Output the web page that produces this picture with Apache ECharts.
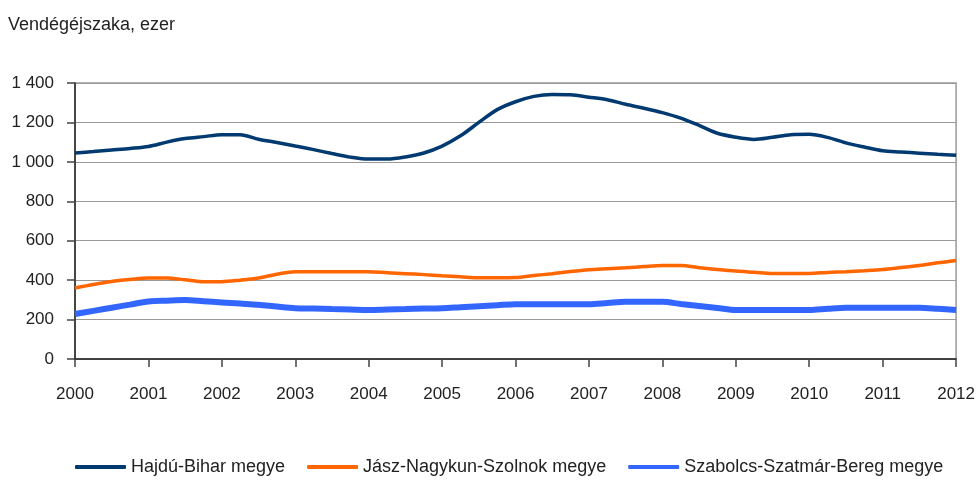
<!DOCTYPE html>
<html>
<head>
<meta charset="utf-8">
<script src="https://cdn.jsdelivr.net/npm/echarts@6/dist/echarts.min.js"></script>
<style>
  html, body { margin: 0; padding: 0; background: #fff; }
  #chart { width: 978px; height: 481px; }
</style>
</head>
<body>
<div id="chart"></div>
<script>
// negyedéves pontok, 2000-2012
var periods = [];
for (var q = 0; q <= 48; q++) { periods.push(2000 + q / 4); }

var yearTicks = [2000, 2001, 2002, 2003, 2004, 2005, 2006, 2007, 2008, 2009, 2010, 2011, 2012];

var hajduBihar = [
  1045, 1052, 1060, 1068, 1078, 1100, 1118, 1128, 1138, 1138, 1115, 1098,
  1080, 1062, 1042, 1024, 1014, 1014, 1025, 1045, 1080, 1132, 1200, 1265,
  1305, 1332, 1342, 1340, 1328, 1315, 1292, 1272, 1250, 1222, 1185, 1145,
  1125, 1114, 1125, 1138, 1140, 1124, 1096, 1075, 1056, 1050, 1044, 1038,
  1033
];
var jaszNagykun = [
  360, 378, 393, 403, 411, 411, 402, 392, 392, 400, 411, 430,
  443, 443, 443, 443, 443, 438, 433, 428, 422, 417, 412, 412,
  413, 423, 433, 444, 453, 458, 463, 469, 474, 474, 463, 454,
  446, 440, 434, 434, 434, 439, 443, 448, 454, 464, 474, 488,
  500
];
var szabolcs = [
  228, 244, 260, 276, 292, 296, 299, 293, 287, 281, 275, 266,
  258, 256, 253, 251, 249, 251, 253, 256, 258, 263, 268, 273,
  278, 278, 278, 278, 278, 284, 290, 290, 290, 279, 269, 259,
  249, 249, 249, 249, 249, 255, 260, 260, 260, 260, 260, 255,
  249
];

function pairs(vals) {
  var out = [];
  for (var i = 0; i < vals.length; i++) { out.push([periods[i], vals[i]]); }
  return out;
}

var font = 'Liberation Sans, Arial, sans-serif';
var myChart = echarts.init(document.getElementById('chart'));

var option = {
  animation: false,
  backgroundColor: '#fff',
  title: {
    text: 'Vendégéjszaka, ezer',
    left: 8,
    top: 16,
    padding: 0,
    textStyle: { fontFamily: font, fontSize: 18, fontWeight: 'normal', color: '#222' }
  },
  grid: {
    left: 75, right: 21, top: 83, bottom: 122,
    show: true, borderColor: '#999', borderWidth: 1.5, backgroundColor: 'transparent'
  },
  legend: {
    left: 75,
    top: 458,
    padding: 0,
    itemWidth: 51,
    itemHeight: 4,
    itemGap: 22,
    icon: 'roundRect',
    textStyle: { fontFamily: font, fontSize: 18, color: '#222' },
    data: ['Hajdú-Bihar megye', 'Jász-Nagykun-Szolnok megye', 'Szabolcs-Szatmár-Bereg megye']
  },
  xAxis: {
    type: 'value',
    min: 2000,
    max: 2012,
    interval: 1,
    axisLine: { lineStyle: { color: '#222', width: 1.5 } },
    axisTick: { show: true, length: 8, lineStyle: { color: '#444', width: 1.5 } },
    splitLine: { show: false },
    axisLabel: {
      margin: 27,
      fontFamily: font,
      fontSize: 17,
      color: '#222',
      formatter: function (v) { return yearTicks.indexOf(v) >= 0 ? String(v) : ''; }
    }
  },
  yAxis: {
    type: 'value',
    min: 0,
    max: 1400,
    interval: 200,
    axisLine: { show: true, lineStyle: { color: '#222', width: 1.5 } },
    axisTick: { show: true, length: 8, lineStyle: { color: '#444', width: 1.5 } },
    splitLine: { lineStyle: { color: '#999', width: 1.2 } },
    axisLabel: {
      margin: 21,
      fontFamily: font,
      fontSize: 17,
      color: '#222',
      formatter: function (v) {
        return v >= 1000 ? Math.floor(v / 1000) + ' ' + String(v % 1000).padStart(3, '0') : String(v);
      }
    }
  },
  series: [
    {
      name: 'Hajdú-Bihar megye',
      type: 'line',
      smooth: 0.3,
      showSymbol: false,
      data: pairs(hajduBihar),
      itemStyle: { color: '#003a70' },
      lineStyle: { color: '#003a70', width: 3.5 }
    },
    {
      name: 'Jász-Nagykun-Szolnok megye',
      type: 'line',
      smooth: 0.3,
      showSymbol: false,
      data: pairs(jaszNagykun),
      itemStyle: { color: '#ff6600' },
      lineStyle: { color: '#ff6600', width: 3.5 }
    },
    {
      name: 'Szabolcs-Szatmár-Bereg megye',
      type: 'line',
      smooth: 0.3,
      showSymbol: false,
      data: pairs(szabolcs),
      itemStyle: { color: '#3366ff' },
      lineStyle: { color: '#3366ff', width: 6 }
    }
  ]
};

myChart.setOption(option);
</script>
</body>
</html>
